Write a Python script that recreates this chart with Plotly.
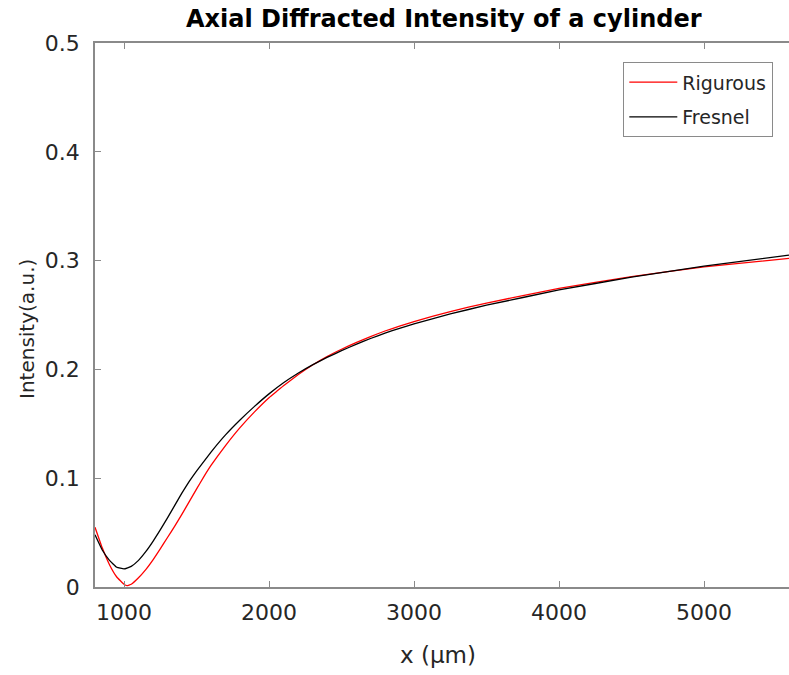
import plotly.graph_objects as go

x_rig = [800, 850, 900, 950, 1000, 1020, 1050, 1100, 1150, 1200, 1250, 1300, 1350, 1400, 1450,
         1500, 1550, 1600, 1700, 1800, 1900, 2000, 2064, 2100, 2200, 2300, 2400, 2500, 2600, 2700,
         2800, 2900, 3000, 3250, 3500, 4000, 4500, 5000, 5586]
y_rig = [0.0550, 0.0360, 0.0205, 0.0092, 0.0025, 0.0012, 0.0025, 0.0085, 0.0160, 0.0250, 0.0350,
         0.0455, 0.0560, 0.0670, 0.0785, 0.0900, 0.1012, 0.1117, 0.1300, 0.1465, 0.1610, 0.1740,
         0.1810, 0.1850, 0.1950, 0.2040, 0.2118, 0.2185, 0.2246, 0.2302, 0.2353, 0.2398, 0.2440,
         0.2532, 0.2610, 0.2745, 0.2852, 0.2942, 0.3021]

x_fre = [800, 850, 900, 950, 1000, 1050, 1100, 1150, 1200, 1250, 1300, 1350, 1400, 1450, 1500,
         1600, 1700, 1800, 1900, 2000, 2100, 2200, 2300, 2400, 2500, 2600, 2700, 2800, 2900, 3000,
         3250, 3500, 4000, 4500, 5000, 5586]
y_fre = [0.0480, 0.0340, 0.0245, 0.0182, 0.0166, 0.0190, 0.0245, 0.0325, 0.0420, 0.0525, 0.0635,
         0.0750, 0.0865, 0.0970, 0.1065, 0.1240, 0.1398, 0.1535, 0.1660, 0.1775, 0.1877, 0.1965,
         0.2042, 0.2110, 0.2172, 0.2230, 0.2284, 0.2333, 0.2378, 0.2419, 0.2510, 0.2590, 0.2730,
         0.2848, 0.2950, 0.3051]

x_ticks = [1000, 2000, 3000, 4000, 5000]
y_ticks = [0, 0.1, 0.2, 0.3, 0.4, 0.5]
y_ticktext = ["0", "0.1", "0.2", "0.3", "0.4", "0.5"]

FONT = "DejaVu Sans, Verdana, sans-serif"
AX = "#8a8a8a"
TXT = "#262626"

W, H = 789, 675
L, R, T, B = 95, 0, 43, 88
PW, PH = W - L - R, H - T - B


def px(xp):
    return (xp - L) / PW


def py(yp):
    return (H - B - yp) / PH


fig = go.Figure()
fig.add_trace(go.Scatter(x=x_rig, y=y_rig, mode="lines", name="Rigurous", legendgroup="a",
                         line=dict(color="#ff0000", width=1.3, shape="spline", smoothing=0.3)))
fig.add_trace(go.Scatter(x=x_fre, y=y_fre, mode="lines", name="Fresnel", legendgroup="b",
                         line=dict(color="#000000", width=1.3, shape="spline", smoothing=0.3)))

fig.update_layout(
    width=W, height=H,
    margin=dict(l=L, r=R, t=T, b=B, pad=0),
    paper_bgcolor="white", plot_bgcolor="white",
    font=dict(family=FONT, size=22, color=TXT),
    showlegend=True,
    legend=dict(x=px(773), y=py(62), xanchor="right", yanchor="top",
                bordercolor=AX, borderwidth=1.3, bgcolor="white",
                font=dict(family=FONT, size=19, color=TXT),
                tracegroupgap=7, itemwidth=48),
    annotations=[
        dict(text="<b>Axial Diffracted Intensity of a cylinder</b>", x=px(444), y=py(19),
             xref="paper", yref="paper", xanchor="center", yanchor="middle", showarrow=False,
             font=dict(family=FONT, size=24, color="#000000")),
        dict(text="Intensity(a.u.)", x=px(27), y=py(329), textangle=-90,
             xref="paper", yref="paper", xanchor="center", yanchor="middle", showarrow=False,
             font=dict(family=FONT, size=20, color=TXT)),
        dict(text="x (μm)", x=px(438), y=py(655),
             xref="paper", yref="paper", xanchor="center", yanchor="middle", showarrow=False,
             font=dict(family=FONT, size=23, color=TXT)),
    ],
)

fig.update_xaxes(range=[800, 5586], tickvals=x_ticks, ticktext=[str(v) for v in x_ticks],
                 ticks="inside", ticklen=6, tickcolor=AX, tickwidth=1.2,
                 showline=True, linecolor=AX, linewidth=1.6, mirror="ticks",
                 showgrid=False, zeroline=False, ticklabelstandoff=5)
fig.update_yaxes(range=[0, 0.5], tickvals=y_ticks, ticktext=y_ticktext,
                 ticks="inside", ticklen=6, tickcolor=AX, tickwidth=1.2,
                 showline=True, linecolor=AX, linewidth=1.6, mirror=False,
                 showgrid=False, zeroline=False, ticklabelstandoff=9)

fig.write_html("out.html", config={"displayModeBar": False},
               post_script="document.body.style.margin='0';document.body.style.padding='0';"
                           "document.body.style.overflow='hidden';")
